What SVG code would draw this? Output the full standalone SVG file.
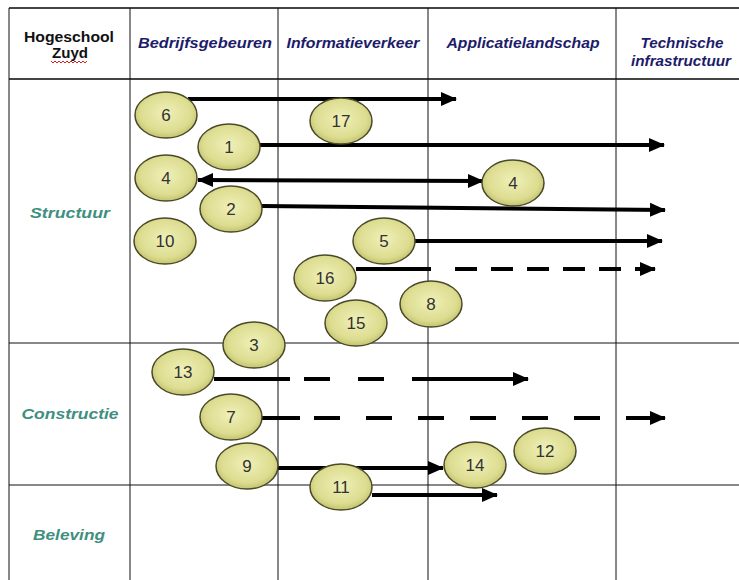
<svg xmlns="http://www.w3.org/2000/svg" width="739" height="580" viewBox="0 0 739 580">
  <defs>
    <radialGradient id="ballFill" cx="50%" cy="45%" r="60%">
      <stop offset="0%" stop-color="#f0f0b8"/>
      <stop offset="70%" stop-color="#dcdc90"/>
      <stop offset="100%" stop-color="#b8b860"/>
    </radialGradient>
    <marker id="head" viewBox="0 0 16 16" refX="15" refY="8" markerWidth="16" markerHeight="16" markerUnits="userSpaceOnUse" orient="auto-start-reverse">
      <path d="M0,1 L16,8 L0,15 Z" fill="#000"/>
    </marker>
  </defs>
  <style>
    .grid { stroke: #111; stroke-width: 1; fill: none; }
    .gridBold { stroke: #444; stroke-width: 2; fill: none; }
    .hdr { font-family: "Liberation Sans", Arial, sans-serif; font-size: 14px; font-weight: bold; font-style: italic; fill: #1c1c6a; text-anchor: middle; }
    .corner { font-family: "Liberation Sans", Arial, sans-serif; font-size: 14px; font-weight: bold; fill: #111; text-anchor: middle; }
    .row { font-family: "Liberation Sans", Arial, sans-serif; font-size: 15px; font-weight: bold; font-style: italic; fill: #3f8f80; text-anchor: middle; }
    .ball ellipse { fill: url(#ballFill); stroke: #4a4a2a; stroke-width: 1.5; }
    .ball text { font-family: "Liberation Sans", Arial, sans-serif; font-size: 17px; fill: #333; text-anchor: middle; }
    .arrow { stroke: #000; stroke-width: 4; fill: none; }
    .dash7 { stroke-dasharray: 26 26; }
    .dash16 { stroke-dasharray: 22 14; }
  </style>

  <rect width="739" height="580" fill="#fff"/>

  <!-- table grid -->
  <g id="grid">
    <line class="gridBold" x1="9" y1="8" x2="739" y2="8"/>
    <line class="gridBold" x1="9" y1="79" x2="739" y2="79"/>
    <line class="grid" x1="9" y1="343" x2="739" y2="343"/>
    <line class="grid" x1="9" y1="485" x2="739" y2="485"/>
    <line class="grid" x1="9" y1="8" x2="9" y2="580"/>
    <line class="grid" x1="130" y1="8" x2="130" y2="580"/>
    <line class="grid" x1="278" y1="8" x2="278" y2="580"/>
    <line class="grid" x1="428" y1="8" x2="428" y2="580"/>
    <line class="grid" x1="616" y1="8" x2="616" y2="580"/>
  </g>

  <!-- column headers -->
  <g id="headers">
    <text class="corner" x="69" y="42" textLength="90" lengthAdjust="spacingAndGlyphs">Hogeschool</text>
    <text class="corner" x="70" y="58" textLength="36" lengthAdjust="spacingAndGlyphs">Zuyd</text>
    <path d="M51,61 l2,2 l2,-2 l2,2 l2,-2 l2,2 l2,-2 l2,2 l2,-2 l2,2 l2,-2 l2,2 l2,-2 l2,2 l2,-2 l2,2 l2,-2 l2,2 l2,-2" fill="none" stroke="#d02020" stroke-width="1"/>
    <text class="hdr" x="205" y="48" textLength="134" lengthAdjust="spacingAndGlyphs">Bedrijfsgebeuren</text>
    <text class="hdr" x="353" y="48" textLength="133" lengthAdjust="spacingAndGlyphs">Informatieverkeer</text>
    <text class="hdr" x="523" y="48" textLength="153" lengthAdjust="spacingAndGlyphs">Applicatielandschap</text>
    <text class="hdr" x="682" y="48" textLength="83" lengthAdjust="spacingAndGlyphs">Technische</text>
    <text class="hdr" x="681" y="66" textLength="100" lengthAdjust="spacingAndGlyphs">infrastructuur</text>
  </g>

  <!-- row labels -->
  <g id="rows">
    <text class="row" x="70" y="218" textLength="80" lengthAdjust="spacingAndGlyphs">Structuur</text>
    <text class="row" x="70" y="419" textLength="97" lengthAdjust="spacingAndGlyphs">Constructie</text>
    <text class="row" x="69" y="540" textLength="72" lengthAdjust="spacingAndGlyphs">Beleving</text>
  </g>

  <!-- connectors -->
  <g id="connectors">
    <line class="arrow" x1="188" y1="99" x2="456" y2="99" marker-end="url(#head)"/>
    <line class="arrow" x1="260" y1="145" x2="664" y2="145" marker-end="url(#head)"/>
    <line class="arrow" x1="198" y1="180" x2="483" y2="181" marker-start="url(#head)" marker-end="url(#head)"/>
    <line class="arrow" x1="262" y1="206" x2="665" y2="210" marker-end="url(#head)"/>
    <line class="arrow" x1="415" y1="241" x2="662" y2="241" marker-end="url(#head)"/>
    <!-- 16: solid start, dashed remainder -->
    <line class="arrow" x1="356" y1="269" x2="431" y2="269"/>
    <line class="arrow dash16" x1="455" y1="269" x2="643" y2="269"/>
    <line class="arrow" x1="640" y1="269" x2="655" y2="269" marker-end="url(#head)"/>
    <!-- 13 -->
    <line class="arrow" x1="214" y1="379" x2="290" y2="379"/>
    <line class="arrow" x1="304" y1="379" x2="330" y2="379"/>
    <line class="arrow" x1="358" y1="379" x2="384" y2="379"/>
    <line class="arrow" x1="412" y1="379" x2="528" y2="379" marker-end="url(#head)"/>
    <!-- 7 -->
    <line class="arrow" x1="261" y1="418" x2="300" y2="418"/>
    <line class="arrow dash7" x1="314" y1="418" x2="652" y2="418"/>
    <line class="arrow" x1="648" y1="418" x2="665" y2="418" marker-end="url(#head)"/>
    <!-- 9 and 11 -->
    <line class="arrow" x1="276" y1="468" x2="443" y2="468" marker-end="url(#head)"/>
    <line class="arrow" x1="372" y1="495" x2="497" y2="495" marker-end="url(#head)"/>
  </g>

  <!-- numbered nodes -->
  <g id="n6" class="ball"><ellipse cx="166" cy="115" rx="31" ry="23"/><text x="166" y="121">6</text></g>
  <g id="n17" class="ball"><ellipse cx="341" cy="121" rx="31" ry="23"/><text x="341" y="127">17</text></g>
  <g id="n1" class="ball"><ellipse cx="229" cy="147" rx="31" ry="23"/><text x="229" y="153">1</text></g>
  <g id="n4a" class="ball"><ellipse cx="166" cy="178" rx="31" ry="23"/><text x="166" y="184">4</text></g>
  <g id="n4b" class="ball"><ellipse cx="513" cy="183" rx="31" ry="23"/><text x="513" y="189">4</text></g>
  <g id="n2" class="ball"><ellipse cx="231" cy="209" rx="31" ry="23"/><text x="231" y="215">2</text></g>
  <g id="n10" class="ball"><ellipse cx="165" cy="241" rx="31" ry="23"/><text x="165" y="247">10</text></g>
  <g id="n5" class="ball"><ellipse cx="384" cy="241" rx="31" ry="23"/><text x="384" y="247">5</text></g>
  <g id="n16" class="ball"><ellipse cx="325" cy="278" rx="31" ry="23"/><text x="325" y="284">16</text></g>
  <g id="n8" class="ball"><ellipse cx="431" cy="304" rx="31" ry="23"/><text x="431" y="310">8</text></g>
  <g id="n15" class="ball"><ellipse cx="356" cy="323" rx="31" ry="23"/><text x="356" y="329">15</text></g>
  <g id="n3" class="ball"><ellipse cx="254" cy="345" rx="31" ry="23"/><text x="254" y="351">3</text></g>
  <g id="n13" class="ball"><ellipse cx="183" cy="372" rx="31" ry="23"/><text x="183" y="378">13</text></g>
  <g id="n7" class="ball"><ellipse cx="231" cy="417" rx="31" ry="23"/><text x="231" y="423">7</text></g>
  <g id="n9" class="ball"><ellipse cx="247" cy="466" rx="31" ry="23"/><text x="247" y="472">9</text></g>
  <g id="n12" class="ball"><ellipse cx="545" cy="451" rx="31" ry="23"/><text x="545" y="457">12</text></g>
  <g id="n14" class="ball"><ellipse cx="475" cy="465" rx="31" ry="23"/><text x="475" y="471">14</text></g>
  <g id="n11" class="ball"><ellipse cx="341" cy="487" rx="31" ry="23"/><text x="341" y="493">11</text></g>
</svg>
